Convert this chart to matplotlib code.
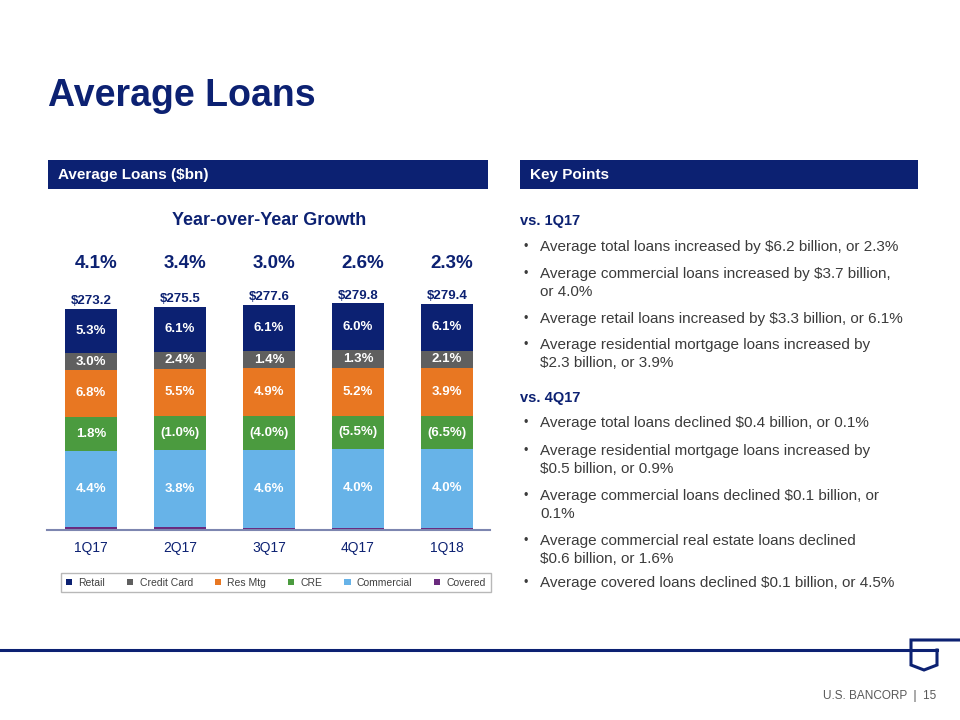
import numpy as np
import matplotlib
matplotlib.use("Agg")
import matplotlib.pyplot as plt
from matplotlib.lines import Line2D
from matplotlib.patches import Rectangle

plt.rcParams["font.family"] = ["Liberation Sans", "DejaVu Sans"]

# ==========================
# DATA ($bn)
# ==========================
quarters = ["1Q17", "2Q17", "3Q17", "4Q17", "1Q18"]

covered = [3.3, 3.1, 2.9, 2.7, 2.6]
commercial = [93.7, 96.0, 96.3, 97.5, 97.4]
cre = [43.0, 42.2, 41.6, 40.8, 40.2]
res_mtg = [57.5, 58.0, 58.8, 59.3, 59.8]
credit_card = [21.0, 20.6, 21.2, 21.6, 21.4]
retail = [54.7, 55.6, 56.8, 57.9, 58.0]

totals = ["$273.2", "$275.5", "$277.6", "$279.8", "$279.4"]
yoy_growth = ["4.1%", "3.4%", "3.0%", "2.6%", "2.3%"]

# year-over-year growth per segment, printed inside the bars
commercial_lbl = ["4.4%", "3.8%", "4.6%", "4.0%", "4.0%"]
cre_lbl = ["1.8%", "(1.0%)", "(4.0%)", "(5.5%)", "(6.5%)"]
res_mtg_lbl = ["6.8%", "5.5%", "4.9%", "5.2%", "3.9%"]
credit_card_lbl = ["3.0%", "2.4%", "1.4%", "1.3%", "2.1%"]
retail_lbl = ["5.3%", "6.1%", "6.1%", "6.0%", "6.1%"]

# key points panel
vs_1q17 = [
    ["Average total loans increased by $6.2 billion, or 2.3%"],
    ["Average commercial loans increased by $3.7 billion,", "or 4.0%"],
    ["Average retail loans increased by $3.3 billion, or 6.1%"],
    ["Average residential mortgage loans increased by", "$2.3 billion, or 3.9%"],
]
vs_4q17 = [
    ["Average total loans declined $0.4 billion, or 0.1%"],
    ["Average residential mortgage loans increased by", "$0.5 billion, or 0.9%"],
    ["Average commercial loans declined $0.1 billion, or", "0.1%"],
    ["Average commercial real estate loans declined", "$0.6 billion, or 1.6%"],
    ["Average covered loans declined $0.1 billion, or 4.5%"],
]

# ==========================
# STYLE
# ==========================
NAVY = "#0c2172"
GRAY_TXT = "#3b3b3b"
W, H = 960, 720

series = [
    ("Covered", covered, "#6a2a7e", None),
    ("Commercial", commercial, "#67b3e8", commercial_lbl),
    ("CRE", cre, "#4b9b3f", cre_lbl),
    ("Res Mtg", res_mtg, "#e87722", res_mtg_lbl),
    ("Credit Card", credit_card, "#5f5f5f", credit_card_lbl),
    ("Retail", retail, NAVY, retail_lbl),
]


def fx(px):
    return px / W


def fy(py):
    return 1 - py / H


fig = plt.figure(figsize=(9.6, 7.2), dpi=100)

# ==========================
# SLIDE FRAME
# ==========================
fig.text(fx(48), fy(96), "Average Loans", fontsize=27, fontweight="bold",
         color=NAVY, va="center", ha="left")

for x0, x1, label in [(48, 488, "Average Loans ($bn)"), (520, 918, "Key Points")]:
    fig.patches.append(Rectangle((fx(x0), fy(189)), fx(x1 - x0), 29 / H,
                                 transform=fig.transFigure, facecolor=NAVY,
                                 edgecolor="none"))
    fig.text(fx(x0 + 10), fy(175), label, fontsize=11, fontweight="bold",
             color="white", va="center", ha="left")

# footer line + logo
lw = 2.2
fig.lines.append(Line2D([fx(0), fx(937)], [fy(650), fy(650)], color=NAVY, lw=lw,
                        transform=fig.transFigure))
fig.lines.append(Line2D([fx(960), fx(911), fx(911), fx(924), fx(937), fx(937)],
                        [fy(640), fy(640), fy(665), fy(670), fy(665), fy(650)],
                        color=NAVY, lw=lw, transform=fig.transFigure,
                        solid_joinstyle="miter"))
fig.text(fx(936), fy(696), "U.S. BANCORP  |  15", fontsize=8.5, color="#595959",
         ha="right", va="center")

# ==========================
# STACKED BARS
# ==========================
ax = fig.add_axes([fx(47), fy(530), fx(490 - 47), 243 / H])
x = np.arange(len(quarters))
bottom = np.zeros(len(quarters))
handles = {}
for name, vals, color, lbls in series:
    vals = np.array(vals)
    bars = ax.bar(x, vals, width=0.584, bottom=bottom, color=color,
                  edgecolor="none", label=name)
    handles[name] = bars
    if lbls is not None:
        for xi, b, v, t in zip(x, bottom, vals, lbls):
            ax.text(xi, b + v / 2, t, ha="center", va="center", color="white",
                    fontsize=9.5, fontweight="bold")
    bottom = bottom + vals

for xi, top, t in zip(x, bottom, totals):
    ax.annotate(t, (xi, top), xytext=(0, 3.5), textcoords="offset points",
                ha="center", va="baseline", fontsize=9.5, fontweight="bold",
                color=NAVY)

ax.text(2, 1.272, "Year-over-Year Growth", transform=ax.get_xaxis_transform(),
        ha="center", va="center", fontsize=13, fontweight="bold", color=NAVY)
for xi, t in zip(x, yoy_growth):
    ax.text(xi + 0.055, 1.098, t, transform=ax.get_xaxis_transform(),
            ha="center", va="center", fontsize=13.5, fontweight="bold", color=NAVY)

ax.set_xlim(-0.494, 4.483)
ax.set_ylim(0, 300)
ax.set_xticks(x)
ax.set_xticklabels(quarters, fontsize=10, color=NAVY)
ax.tick_params(axis="x", length=0, pad=8)
ax.set_yticks([])
for s in ["top", "right", "left"]:
    ax.spines[s].set_visible(False)
ax.spines["bottom"].set_color("#7d86b0")
ax.spines["bottom"].set_linewidth(1.5)

order = ["Retail", "Credit Card", "Res Mtg", "CRE", "Commercial", "Covered"]
leg = fig.legend([handles[n] for n in order], order, loc="center",
                 bbox_to_anchor=(fx(276), fy(582.5)), ncol=6, fontsize=7.5,
                 frameon=True, fancybox=False, edgecolor="#a6a6a6",
                 handlelength=0.6, handleheight=0.6, handletextpad=0.6,
                 columnspacing=2.1, borderpad=0.45, labelcolor="#404040")
leg.get_frame().set_linewidth(1.0)

# ==========================
# KEY POINTS
# ==========================
def block(header, y_header, items, y_lines):
    fig.text(fx(520), fy(y_header), header, fontsize=10.5, fontweight="bold",
             color=NAVY, va="center", ha="left")
    k = 0
    for item in items:
        fig.text(fx(524), fy(y_lines[k]), "\u2022", fontsize=9, color=GRAY_TXT,
                 va="center", ha="left")
        for line in item:
            fig.text(fx(540), fy(y_lines[k]), line, fontsize=11, color=GRAY_TXT,
                     va="center", ha="left")
            k += 1


block("vs. 1Q17", 221, vs_1q17, [247, 274, 292, 319, 345, 363])
block("vs. 4Q17", 398, vs_4q17, [423, 451, 469, 496, 514, 541, 559, 583])

fig.savefig("out.png", dpi=100)
